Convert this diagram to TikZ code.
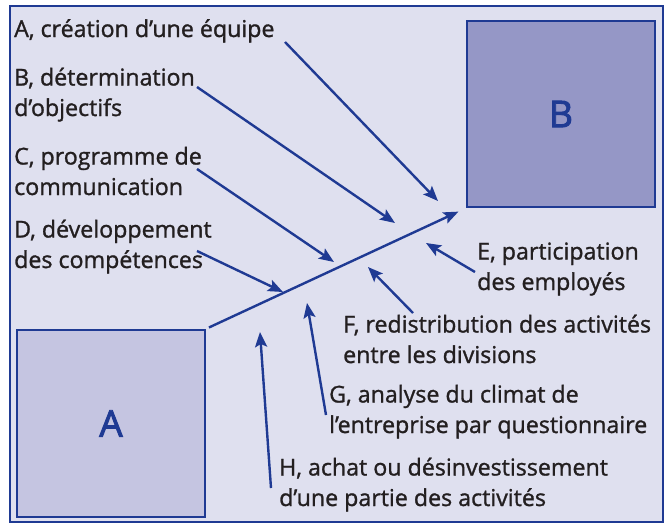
\documentclass[tikz,border=0pt]{standalone}
\usepackage{fontspec}
\setmainfont{Open Sans}
\newfontfamily\lblfont{Open Sans}[FakeBold=1.2]
\newfontfamily\sqfont{Open Sans}[FakeBold=2.5]
\usetikzlibrary{arrows.meta}
\definecolor{navy}{HTML}{1F3A93}
\definecolor{bgl}{HTML}{DFE0EF}
\definecolor{bfill}{HTML}{9597C6}
\definecolor{afill}{HTML}{C5C5E1}
\definecolor{txt}{HTML}{231F20}
\begin{document}
\begin{tikzpicture}[x=1pt,y=-1pt,
  lbl/.style={anchor=base west, inner sep=0pt, align=left, text=txt,
              font=\lblfont\fontsize{23.2}{30.5}\selectfont},
  sq/.style={draw=navy, line width=2.5pt, inner sep=0pt, text=navy,
             font=\sqfont\fontsize{37}{40}\selectfont},
  conn/.style={draw=navy, line width=2.4pt,
               -{Stealth[length=15pt,width=12pt,inset=3pt]}}]
\useasboundingbox (0,0) rectangle (667,525);
\draw[navy, line width=2.5pt, fill=bgl] (10,6) rectangle (663,522);

\node[sq, fill=afill, minimum width=188pt, minimum height=187pt] (boxA) at (111,423.5) {A};
\node[sq, fill=bfill, minimum width=188pt, minimum height=186pt] (boxB) at (561,114) {B};

\draw[conn, shorten <=3pt, shorten >=8pt] (boxA.north east) -- (boxB.south west);

% base anchor of a two-line node = baseline of its last line
\node[lbl] (la) at (14,37) {A, création d’une équipe};
\node[lbl] (lb) at (14,116) {B, détermination\\d’objectifs};
\node[lbl] (lc) at (14,195) {C, programme de\\communication};
\node[lbl] (ld) at (14,268) {D, développement\\des compétences};
\node[lbl] (le) at (477,290) {E, participation\\des employés};
\node[lbl] (lf) at (343,363) {F, redistribution des activités\\entre les divisions};
\node[lbl] (lg) at (329,433) {G, analyse du climat de\\l’entreprise par questionnaire};
\node[lbl] (lh) at (279,506) {H, achat ou désinvestissement\\d’une partie des activités};

\coordinate (a0) at (285,42);  \coordinate (a1) at (438,201);
\coordinate (b0) at (197,87);  \coordinate (b1) at (395,223);
\coordinate (c0) at (197,169); \coordinate (c1) at (334,262);
\coordinate (d0) at (197,251); \coordinate (d1) at (283,292);
\coordinate (e0) at (475,272); \coordinate (e1) at (426,243);
\coordinate (f0) at (413,313); \coordinate (f1) at (368,267);
\coordinate (g0) at (326,415); \coordinate (g1) at (307,303);
\coordinate (h0) at (271,488); \coordinate (h1) at (260,332);

\draw[conn] (a0) -- (a1);
\draw[conn] (b0) -- (b1);
\draw[conn] (c0) -- (c1);
\draw[conn] (d0) -- (d1);
\draw[conn] (e0) -- (e1);
\draw[conn] (f0) -- (f1);
\draw[conn] (g0) -- (g1);
\draw[conn] (h0) -- (h1);
\end{tikzpicture}
\end{document}
